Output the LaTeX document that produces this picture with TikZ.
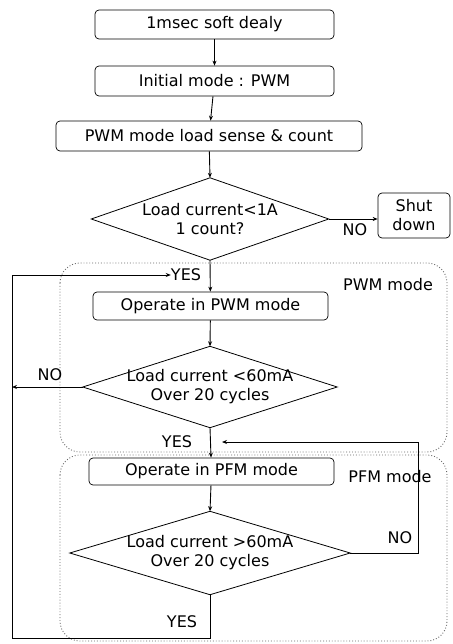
\documentclass[tikz,border=0pt]{standalone}
\usepackage{fontspec}
\setmainfont{DejaVu Sans}
\usetikzlibrary{arrows.meta}
\begin{document}
\begin{tikzpicture}[x=1pt,y=-1pt,
  every node/.style={font=\fontsize{16}{19}\selectfont},
  box/.style={draw, rounded corners=4pt, line width=0.7pt, inner sep=0pt, align=center},
  dia/.style={inner sep=0pt, align=center},
  diaedge/.style={line width=0.8pt, line join=miter},
  region/.style={draw=black!60, dotted, line width=0.9pt, rounded corners=20pt},
  lab/.style={inner sep=0pt},
  conn/.style={line width=0.9pt},
  arr/.style={conn, -{Stealth[length=5pt,width=4pt]}}]
\useasboundingbox (0,0) rectangle (452,644);
% regions
\draw[region] (60,263) rectangle (447,452);
\draw[region] (60,455) rectangle (447,641);
\node[lab] (pwmlab) at (388,285) {PWM mode};
\node[lab] (pfmlab) at (390,477) {PFM mode};
% nodes
\node[box, minimum width=239pt, minimum height=29pt] (b1) at (214.5,24.5) {1msec soft dealy};
\node[box, minimum width=239pt, minimum height=30pt] (b2) at (214.5,81) {Initial mode : PWM};
\node[box, minimum width=306pt, minimum height=30pt] (b3) at (209,136) {PWM mode load sense \& count};
\node[dia, minimum width=237pt, minimum height=82pt] (d1) at (210,219) {Load current<1A\\1 count?};
\node[box, minimum width=72pt, minimum height=45pt] (sd) at (414,215.5) {Shut\\down};
\node[box, minimum width=235pt, minimum height=28pt] (b4) at (210.5,306) {Operate in PWM mode};
\node[dia, minimum width=254pt, minimum height=81pt] (d2) at (210,387) {Load current <60mA\\Over 20 cycles};
\node[box, minimum width=245pt, minimum height=27pt] (b5) at (211.5,471.5) {Operate in PFM mode};
\node[dia, minimum width=280pt, minimum height=83pt] (d3) at (210,553) {Load current >60mA\\Over 20 cycles};
\foreach \d in {d1,d2,d3}
  \draw[diaedge] (\d.north) -- (\d.east) -- (\d.south) -- (\d.west) -- cycle;
% labels
\node[lab] (no1) at (355,230) {NO};
\node[lab] (yes1) at (186,275) {YES};
\node[lab] (no2) at (50,375) {NO};
\node[lab] (yes2) at (177,442) {YES};
\node[lab] (no3) at (400,538) {NO};
\node[lab] (yes3) at (182,622) {YES};
% coordinates
\coordinate (lb) at (12,638);
\coordinate (lt) at (12,275);
\coordinate (rt) at (418,442);
\coordinate (rin) at (222,442);
% connectors
\draw[arr] (b1) -- (b2);
\draw[arr] (b2) -- (b3);
\draw[arr] (b3) -- (d1.north);
\draw[arr] (d1.east) -- (d1.east -| sd.west);
\draw[arr] (d1.south) -- (b4);
\draw[arr] (b4) -- (d2.north);
\draw[arr] (d2.west) -- (d2.west -| lt);
\draw[arr] (d2.south) -- (b5);
\draw[arr] (b5) -- (d3.north);
\draw[conn] (d3.south) -- (d3.south |- lb) -- (lb) -- (lt);
\draw[arr] (lt) -- (yes1.west);
\draw[conn] (d3.east) -- (d3.east -| rt) -- (rt);
\draw[arr] (rt) -- (rin);
\end{tikzpicture}
\end{document}
